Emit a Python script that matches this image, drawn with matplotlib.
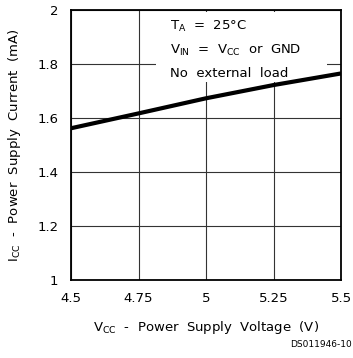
import matplotlib
matplotlib.use("Agg")
import matplotlib.pyplot as plt
from matplotlib.patches import Rectangle

vcc = [4.5, 4.75, 5.0, 5.25, 5.5]
icc = [1.562, 1.617, 1.673, 1.722, 1.765]
xticks = [4.5, 4.75, 5.0, 5.25, 5.5]
xticklabels = ["4.5", "4.75", "5", "5.25", "5.5"]
yticks = [1.0, 1.2, 1.4, 1.6, 1.8, 2.0]
yticklabels = ["1", "1.2", "1.4", "1.6", "1.8", "2"]

plt.rcParams['font.family'] = ['DejaVu Sans']
plt.rcParams['mathtext.default'] = 'regular'

fig = plt.figure(figsize=(3.53, 3.58), dpi=100)
ax = fig.add_axes([71/353, 78/358, 270/353, 270/358])

ax.set_xlim(4.5, 5.5)
ax.set_ylim(1.0, 2.0)
ax.set_xticks(xticks)
ax.set_xticklabels(xticklabels)
ax.set_yticks(yticks)
ax.set_yticklabels(yticklabels)
ax.tick_params(length=0, labelsize=9.5, pad=9)
ax.grid(True, color='#333333', linewidth=0.8)
ax.set_axisbelow(True)
for s in ax.spines.values():
    s.set_linewidth(1.3)
    s.set_color('black')
    s.set_zorder(5)

ax.plot(vcc, icc, color='black', linewidth=3.0, zorder=3, solid_capstyle='butt')

ax.add_patch(Rectangle((0.315, 0.733), 0.633, 0.26, transform=ax.transAxes,
                       facecolor='white', edgecolor='none', zorder=2))
ax.text(0.365, 0.968, "T$_{A}$  =  25°C", transform=ax.transAxes,
        fontsize=9.5, va='top', ha='left', zorder=4)
ax.text(0.365, 0.878, "V$_{IN}$  =  V$_{CC}$  or  GND", transform=ax.transAxes,
        fontsize=9.5, va='top', ha='left', zorder=4)
ax.text(0.365, 0.788, "No  external  load", transform=ax.transAxes,
        fontsize=9.5, va='top', ha='left', zorder=4)

ax.set_xlabel("V$_{CC}$  -  Power  Supply  Voltage  (V)", fontsize=9.5, labelpad=10)
ax.set_ylabel("I$_{CC}$  -  Power  Supply  Current  (mA)", fontsize=9.5, labelpad=10)

fig.text(352/353, 9/358, "DS011946-10", fontsize=6.5, ha='right', va='bottom')

fig.savefig("out.png", dpi=100)
